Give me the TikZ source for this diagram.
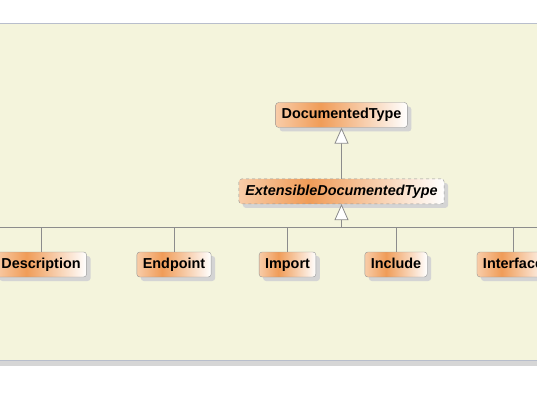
\documentclass[tikz,border=0pt]{standalone}
\usepackage{fontspec}
\setmainfont{Liberation Sans}
\usetikzlibrary{arrows.meta,shadows,positioning}

\definecolor{panel}{RGB}{244,244,220}
\definecolor{rim}{RGB}{184,190,204}
\definecolor{band}{RGB}{214,214,214}
\definecolor{edge}{RGB}{150,150,150}
\definecolor{wire}{RGB}{140,140,140}
\definecolor{shadowgray}{RGB}{212,212,212}
\definecolor{nodeA}{RGB}{248,204,168}
\definecolor{nodeB}{RGB}{240,156,88}
\pgfdeclarehorizontalshading{nodegrad}{100bp}{color(0bp)=(nodeA); color(25bp)=(nodeA); color(42bp)=(nodeB); color(75bp)=(white); color(100bp)=(white)}

\begin{document}
\begin{tikzpicture}[x=1pt,y=-1pt,
  main/.style = {draw=edge, rounded corners=3pt, shade, shading=nodegrad,
    minimum height=25pt, inner xsep=6pt, text height=10.5pt, text depth=3pt,
    font=\fontsize{14.4}{16}\selectfont\bfseries,
    drop shadow={shadow xshift=4pt, shadow yshift=-4pt, fill=shadowgray, opacity=1}},
  abstract/.style = {main, dashed, inner xsep=6.5pt, font=\fontsize{14.4}{16}\selectfont\bfseries\itshape},
  line/.style = {draw=wire, line width=0.8pt}]
\useasboundingbox (0,0) rectangle (537,403);
\clip (0,0) rectangle (537,403);
% background panel
\fill[panel] (0,23) rectangle (537,360);
\draw[rim] (0,23) -- (537,23);
\fill[band] (0,360) rectangle (537,366);
\draw[rim] (0,360) -- (537,360);

\node[main] (1) at (341.5,115) {DocumentedType};
\node[abstract] (2) [below=51pt of 1] {ExtensibleDocumentedType};
\node[main] (3) at (41,264.5) {Description};
\node[main] (4) at (174,264.5) {Endpoint};
\node[main] (5) at (287.5,264.5) {Import};
\node[main] (6) at (396,264.5) {Include};
\node[main] (7) at (513,264.5) {Interface};

\coordinate (bus) at (341.5,227);
\coordinate (left) at (0,227);
\coordinate (right) at (537,227);
\draw[line, -{Triangle[length=16pt,width=14pt,fill=white]}] (2) -- (1);
\draw[line, -{Triangle[length=16pt,width=14pt,fill=white]}] (bus) -- (2);
\draw[line] (left) -- (right);
\draw[line] (3) |- (bus);
\draw[line] (4) |- (bus);
\draw[line] (5) |- (bus);
\draw[line] (6) |- (bus);
\draw[line] (7) |- (bus);
\end{tikzpicture}
\end{document}
